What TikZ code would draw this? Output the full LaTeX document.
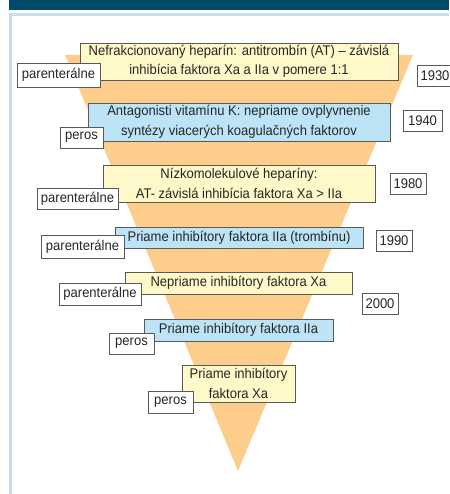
\documentclass[tikz,border=0pt]{standalone}
\usepackage{fontspec}
\setmainfont[FakeStretch=0.93]{Liberation Sans}
\definecolor{funnel}{HTML}{FDCD8C}
\definecolor{pale}{HTML}{FFF8C8}
\definecolor{sky}{HTML}{BCE4F6}
\definecolor{frame}{HTML}{C9DDEA}
\definecolor{band}{HTML}{004B6A}
\tikzset{
  box/.style={draw=black!65,line width=.8pt,inner sep=0pt,align=center,
    font=\fontsize{14}{19.5}\selectfont,text=black!85},
  yellowbox/.style={box,fill=pale},
  bluebox/.style={box,fill=sky},
  routebox/.style={box,fill=white,minimum height=21pt},
  yearbox/.style={box,fill=white,minimum width=36pt,minimum height=21pt}
}

\begin{document}
\begin{tikzpicture}[x=1pt,y=-1pt]
\useasboundingbox (0,0) rectangle (449,494);
% header band and frame
\fill[band] (9,0) rectangle (449,10);
\fill[frame] (9,13) rectangle (449,16);
\fill[frame] (9,13) rectangle (12,494);
% funnel
\fill[funnel] (65,55) -- (413,55) -- (238,471) -- cycle;

% 1930
\node[yellowbox,minimum width=318pt,minimum height=37pt] (nef) at (239,61.5)
  {Nefrakcionovaný heparín: antitrombín (AT) -- závislá\\inhibícia faktora Xa a IIa v pomere 1:1};
\node[routebox,minimum width=83pt,minimum height=24pt] (par1) at (58.5,75) {parenterálne};
\node[yearbox] (y1930) at (435,76) {1930};
% 1940
\node[bluebox,minimum width=302pt,minimum height=38pt] (ant) at (239,122)
  {Antagonisti vitamínu K: nepriame ovplyvnenie\\syntézy viacerých koagulačných faktorov};
\node[routebox,minimum width=43pt] (peros1) at (81.5,137.5) {peros};
\node[yearbox,minimum width=39pt] (y1940) at (422.5,121) {1940};
% 1980
\node[yellowbox,minimum width=272pt,minimum height=37pt] (niz) at (239,183.5)
  {Nízkomolekulové heparíny:\\AT- závislá inhibícia faktora Xa > IIa};
\node[routebox,minimum width=81pt] (par2) at (77.5,198.5) {parenterálne};
\node[yearbox] (y1980) at (408,184) {1980};
% 1990
\node[bluebox,minimum width=248pt,minimum height=21pt] (pri1) at (239,237.5)
  {Priame inhibítory faktora IIa (trombínu)};
\node[routebox,minimum width=83pt,minimum height=23pt] (par3) at (82.5,246.5) {parenterálne};
\node[yearbox] (y1990) at (394,241) {1990};
% 2000
\node[yellowbox,minimum width=227pt,minimum height=22pt] (nep) at (238.5,283)
  {Nepriame inhibítory faktora Xa};
\node[routebox,minimum width=82pt,minimum height=22pt] (par4) at (100,294) {parenterálne};
\node[yearbox] (y2000) at (380,303.5) {2000};
\node[bluebox,minimum width=189pt,minimum height=22pt] (pri2) at (238.5,330)
  {Priame inhibítory faktora IIa};
\node[routebox,minimum width=45pt] (peros2) at (131.5,343.5) {peros};
\node[yellowbox,minimum width=113pt,minimum height=37pt] (pri3) at (238.5,383.5)
  {Priame inhibítory\\faktora Xa};
\node[routebox,minimum width=45pt,minimum height=22pt] (peros3) at (170.5,402) {peros};
\end{tikzpicture}
\end{document}
